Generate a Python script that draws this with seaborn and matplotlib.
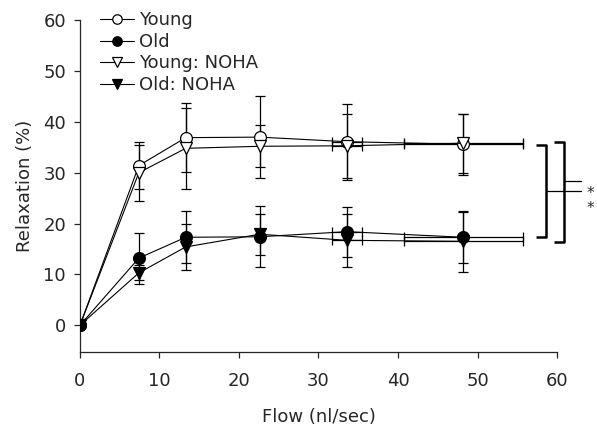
import numpy as np
import pandas as pd
import matplotlib
matplotlib.use("Agg")
import matplotlib.pyplot as plt
import seaborn as sns

# values
flow = [0, 7.4, 13.3, 22.6, 33.6, 48.2]
flow_err = [0, 0, 0, 0, 1.9, 7.5]

young = [0, 31.4, 36.9, 37.0, 36.1, 35.6]
young_err = [0, 4.6, 6.8, 8.0, 7.5, 6.0]
old = [0, 13.2, 17.3, 17.4, 18.4, 17.3]
old_err = [0, 5.0, 5.1, 6.0, 4.9, 5.0]
young_noha = [0, 30.0, 34.8, 35.2, 35.3, 35.8]
young_noha_err = [0, 5.5, 8.0, 4.1, 6.3, 5.8]
old_noha = [0, 10.3, 15.4, 17.9, 16.7, 16.5]
old_noha_err = [0, 1.5, 4.5, 4.0, 5.2, 6.0]

groups = ["Young", "Old", "Young: NOHA", "Old: NOHA"]
means = [young, old, young_noha, old_noha]
errs = [young_err, old_err, young_noha_err, old_noha_err]
markers = {"Young": "o", "Old": "o", "Young: NOHA": "v", "Old: NOHA": "v"}
faces = {"Young": "white", "Old": "black", "Young: NOHA": "white", "Old: NOHA": "black"}

sns.set_style("ticks")
plt.rcParams['font.family'] = ['DejaVu Sans']

df = pd.DataFrame({
    "flow": np.tile(flow, len(groups)),
    "relax": np.concatenate(means),
    "group": np.repeat(groups, len(flow)),
})

fig = plt.figure(figsize=(5.97, 4.30), dpi=100)
ax = fig.add_axes([0.134, 0.181, 0.799, 0.772])

# error bars first, markers on top
for g, m, e in zip(groups, means, errs):
    ax.errorbar(flow, m, yerr=e, xerr=flow_err, fmt="none", ecolor="black",
                elinewidth=0.9, capsize=3.5, capthick=0.9, zorder=2)

for g in groups:
    sub = df[df["group"] == g]
    sns.lineplot(data=sub, x="flow", y="relax", ax=ax, color="black", lw=0.8,
                 marker=markers[g], markersize=8.5, markerfacecolor=faces[g],
                 markeredgecolor="black", markeredgewidth=0.9, label=g,
                 zorder=3, errorbar=None)

# significance brackets
kw = dict(color="black", lw=1.8, clip_on=False, solid_capstyle="butt")
ax.plot([57.4, 58.6, 58.6, 57.4], [35.4, 35.4, 17.4, 17.4], **kw)
ax.plot([58.6, 63.0], [26.4, 26.4], color="black", lw=0.9, clip_on=False)
ax.plot([59.6, 60.9, 60.9, 59.6], [36.1, 36.1, 16.4, 16.4], **kw)
ax.plot([60.9, 63.0], [28.4, 28.4], color="black", lw=0.9, clip_on=False)
ax.text(64.2, 26.0, "*", fontsize=11, ha="center", va="center", clip_on=False)
ax.text(64.2, 22.9, "*", fontsize=11, ha="center", va="center", clip_on=False)

ax.set_xlim(0, 60)
ax.set_ylim(-5.3, 60)
ax.set_xticks(range(0, 61, 10))
ax.set_yticks(range(0, 61, 10))
ax.tick_params(labelsize=13, length=4, width=0.9, direction="out")
ax.tick_params(axis="x", pad=10)
ax.tick_params(axis="y", pad=6)
for s in ["left", "bottom"]:
    ax.spines[s].set_linewidth(0.9)
sns.despine(ax=ax)
ax.set_xlabel("Flow (nl/sec)", fontsize=13, labelpad=13)
ax.set_ylabel("Relaxation (%)", fontsize=13, labelpad=7)

leg = ax.legend(loc="upper left", bbox_to_anchor=(0.042, 1.027), frameon=False,
                fontsize=13, handlelength=1.9, handletextpad=0.25,
                labelspacing=0.2, borderaxespad=0, borderpad=0,
                markerscale=0.8)

fig.savefig("out.png", dpi=100)
